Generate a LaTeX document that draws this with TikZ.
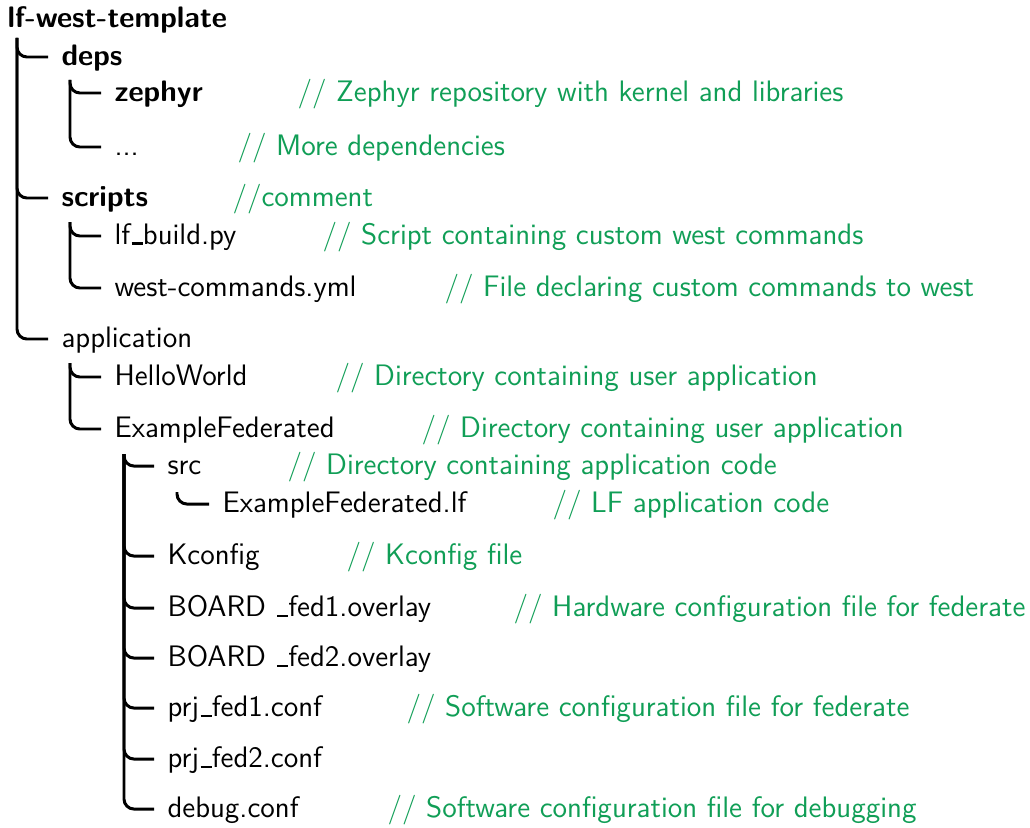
\documentclass[tikz,border=0pt]{standalone}
\usepackage{xcolor}
\definecolor{cmtgreen}{RGB}{16,158,86}
% low rule used for the underscore in file names
\newcommand{\fileus}{\leavevmode\kern.05em\vbox{\hrule width.38em height .07em}}
\begin{document}
\begin{tikzpicture}[x=0.385pt,y=-0.385pt,
  every node/.style={font=\fontsize{11.4}{13}\selectfont\sffamily},
  entry/.style={anchor=west,inner xsep=5pt,inner ysep=0pt,text height=9.1pt,text depth=2.5pt},
  dirbold/.style={entry,font=\fontsize{11.4}{13}\selectfont\sffamily\bfseries},
  note/.style={anchor=west,inner sep=0pt,text height=9.1pt,text depth=2.5pt,text=cmtgreen},
  branch/.style={line width=1.15pt,rounded corners=3.8pt}]
\useasboundingbox (0,0) rectangle (1030,827);

% tree entries (west anchor = end of the branch tick)
\node[anchor=base west,inner sep=0pt,font=\fontsize{11.4}{13}\selectfont\sffamily\bfseries] (root) at (7,28) {lf-west-template};
\node[dirbold] (deps)    at (48,57)  {deps};
\node[dirbold] (zephyr)  at (101,93) {zephyr};
\node[entry]   (more)    at (101,147) {...};
\node[dirbold] (scripts) at (48,198) {scripts};
\node[entry]   (lfbuild) at (101,236) {lf\fileus build.py};
\node[entry]   (westcmd) at (101,288) {west-commands.yml};
\node[entry]   (app)     at (48,339) {application};
\node[entry]   (hello)   at (101,377) {HelloWorld};
\node[entry]   (exfed)   at (101,429) {ExampleFederated};
\node[entry]   (src)     at (154,466) {src};
\node[entry]   (eflf)    at (209,504) {ExampleFederated.lf};
\node[entry]   (kconfig) at (154,556) {Kconfig};
\node[entry]   (board1)  at (154,608) {BOARD \fileus fed1.overlay};
\node[entry]   (board2)  at (154,658) {BOARD \fileus fed2.overlay};
\node[entry]   (prj1)    at (154,708) {prj\fileus fed1.conf};
\node[entry]   (prj2)    at (154,759) {prj\fileus fed2.conf};
\node[entry]   (debug)   at (154,809) {debug.conf};

% comments
\node[note] at (297,93)  {// Zephyr repository with kernel and libraries};
\node[note] at (237,147) {// More dependencies};
\node[note] at (232,198) {//comment};
\node[note] at (322,236) {// Script containing custom west commands};
\node[note] at (444,288) {// File declaring custom commands to west};
\node[note] at (335,377) {// Directory containing user application};
\node[note] at (421,429) {// Directory containing user application};
\node[note] at (287,466) {// Directory containing application code};
\node[note] at (552,504) {// LF application code};
\node[note] at (346,556) {// Kconfig file};
\node[note] at (513,608) {// Hardware configuration file for federate};
\node[note] at (406,708) {// Software configuration file for federate};
\node[note] at (387,809) {// Software configuration file for debugging};

% trunk start points below each directory
\coordinate (rootv)    at (17,38);
\coordinate (depsv)    at (70,80);
\coordinate (scriptsv) at (70,222);
\coordinate (appv)     at (70,363);
\coordinate (exfedv)   at (124,454);
\coordinate (srcv)     at (177,492);

% branches
\foreach \c in {deps,scripts,app} \draw[branch] (rootv) |- (\c.west);
\foreach \c in {zephyr,more} \draw[branch] (depsv) |- (\c.west);
\foreach \c in {lfbuild,westcmd} \draw[branch] (scriptsv) |- (\c.west);
\foreach \c in {hello,exfed} \draw[branch] (appv) |- (\c.west);
\foreach \c in {src,kconfig,board1,board2,prj1,prj2,debug} \draw[branch] (exfedv) |- (\c.west);
\draw[branch] (srcv) |- (eflf.west);
\end{tikzpicture}
\end{document}
